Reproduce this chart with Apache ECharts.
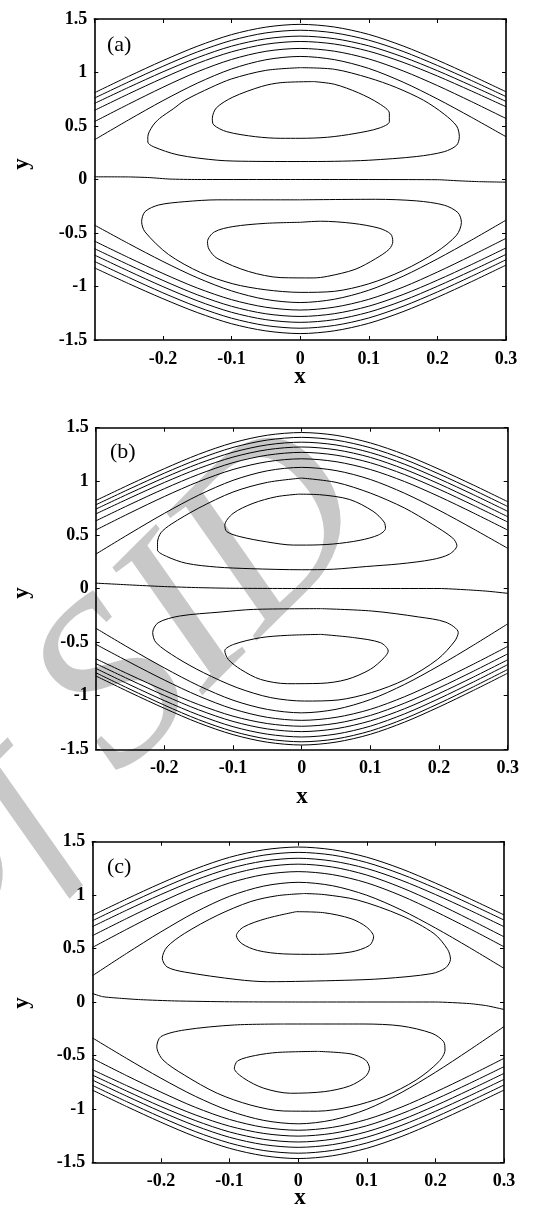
<!DOCTYPE html>
<html>
<head>
<meta charset="utf-8">
<script src="https://cdn.jsdelivr.net/npm/echarts/dist/echarts.min.js"></script>
<style>
  html, body { margin: 0; padding: 0; background: #ffffff; }
  #chart { width: 542px; height: 1211px; }
</style>
</head>
<body>
<div id="chart"></div>
<script>
// Abscissas at which the open streamlines are sampled
const xs = [-0.3, -0.25, -0.2, -0.15, -0.1, -0.05, 0, 0.05, 0.1, 0.15, 0.2, 0.25, 0.3];

// Axis ticks
const xTicks = [-0.3, -0.2, -0.1, 0, 0.1, 0.2, 0.3];
const yTicks = [-1.5, -1, -0.5, 0, 0.5, 1, 1.5];

// ---------- panel (a) ----------
const aOpenUpper = [
  [0.81, 0.964, 1.111, 1.245, 1.354, 1.424, 1.45, 1.425, 1.356, 1.248, 1.116, 0.971, 0.82],
  [0.76, 0.912, 1.058, 1.192, 1.30, 1.37, 1.395, 1.37, 1.302, 1.197, 1.066, 0.924, 0.775],
  [0.71, 0.861, 1.006, 1.138, 1.246, 1.315, 1.34, 1.316, 1.249, 1.145, 1.017, 0.876, 0.73],
  [0.645, 0.80, 0.948, 1.084, 1.193, 1.264, 1.29, 1.266, 1.199, 1.095, 0.967, 0.826, 0.68],
  [0.54, 0.704, 0.862, 1.006, 1.122, 1.198, 1.225, 1.199, 1.127, 1.015, 0.878, 0.727, 0.57],
  [0.37, 0.557, 0.737, 0.90, 1.033, 1.119, 1.15, 1.12, 1.038, 0.91, 0.753, 0.58, 0.40]
];
const aOpenLower = [
  [-0.425, -0.599, -0.766, -0.918, -1.041, -1.121, -1.15, -1.119, -1.035, -0.904, -0.742, -0.565, -0.38],
  [-0.575, -0.73, -0.878, -1.014, -1.123, -1.194, -1.22, -1.193, -1.12, -1.006, -0.865, -0.711, -0.55],
  [-0.645, -0.797, -0.943, -1.077, -1.185, -1.255, -1.28, -1.254, -1.184, -1.075, -0.941, -0.794, -0.64],
  [-0.705, -0.856, -1.001, -1.133, -1.241, -1.31, -1.335, -1.31, -1.24, -1.132, -0.998, -0.852, -0.70],
  [-0.765, -0.915, -1.059, -1.19, -1.296, -1.365, -1.39, -1.364, -1.294, -1.185, -1.051, -0.904, -0.75],
  [-0.825, -0.973, -1.114, -1.243, -1.348, -1.415, -1.44, -1.414, -1.344, -1.235, -1.101, -0.954, -0.80]
];
const aTopOuter = [[0,1.045],[0.05,1.03],[0.1,0.95],[0.14,0.86],[0.18,0.74],[0.21,0.61],[0.228,0.50],[0.232,0.40],[0.228,0.32],[0.21,0.26],[0.17,0.215],[0.1,0.18],[0.05,0.17],[0,0.168],[-0.075,0.17],[-0.12,0.18],[-0.178,0.23],[-0.214,0.307],[-0.222,0.35],[-0.222,0.40],[-0.215,0.50],[-0.205,0.57],[-0.185,0.66],[-0.168,0.74],[-0.13,0.86],[-0.1,0.94],[-0.05,1.02],[0,1.045]];
const aTopInner = [[0.02,0.915],[0.05,0.89],[0.085,0.81],[0.115,0.71],[0.13,0.62],[0.13,0.54],[0.115,0.48],[0.08,0.43],[0.04,0.395],[0,0.385],[-0.028,0.385],[-0.065,0.40],[-0.107,0.447],[-0.126,0.51],[-0.128,0.57],[-0.122,0.67],[-0.098,0.77],[-0.056,0.87],[-0.028,0.905],[0.02,0.915]];
const aBotOuter = [[0,-0.19],[0.11,-0.185],[0.17,-0.20],[0.21,-0.24],[0.23,-0.31],[0.235,-0.40],[0.228,-0.52],[0.198,-0.68],[0.15,-0.85],[0.1,-0.975],[0.05,-1.045],[0,-1.055],[-0.051,-1.03],[-0.098,-0.975],[-0.145,-0.87],[-0.192,-0.70],[-0.226,-0.49],[-0.231,-0.394],[-0.226,-0.30],[-0.206,-0.238],[-0.168,-0.207],[-0.12,-0.19],[0,-0.19]];
const aBotInner = [[0,-0.40],[0.03,-0.39],[0.077,-0.41],[0.115,-0.455],[0.132,-0.51],[0.135,-0.58],[0.13,-0.65],[0.11,-0.74],[0.08,-0.84],[0.04,-0.905],[0.019,-0.92],[-0.028,-0.917],[-0.075,-0.86],[-0.121,-0.737],[-0.133,-0.65],[-0.135,-0.58],[-0.125,-0.49],[-0.098,-0.44],[-0.051,-0.41],[0,-0.40]];
const aMid = [[-0.3,0.025],[-0.25,0.024],[-0.22,0.018],[-0.19,0.004],[-0.15,0],[0,0],[0.2,-0.002],[0.23,-0.012],[0.26,-0.02],[0.3,-0.025]];

// ---------- panel (b) ----------
const bOpenUpper = [
  [0.82, 0.972, 1.118, 1.252, 1.36, 1.43, 1.455, 1.429, 1.358, 1.249, 1.113, 0.965, 0.81],
  [0.78, 0.931, 1.076, 1.208, 1.316, 1.385, 1.41, 1.384, 1.313, 1.204, 1.068, 0.92, 0.765],
  [0.74, 0.89, 1.034, 1.165, 1.271, 1.34, 1.365, 1.339, 1.268, 1.159, 1.023, 0.875, 0.72],
  [0.695, 0.845, 0.989, 1.12, 1.226, 1.295, 1.32, 1.294, 1.223, 1.112, 0.976, 0.826, 0.67],
  [0.63, 0.784, 0.931, 1.065, 1.174, 1.244, 1.27, 1.244, 1.173, 1.062, 0.926, 0.776, 0.62],
  [0.545, 0.705, 0.858, 0.997, 1.11, 1.183, 1.21, 1.183, 1.11, 0.997, 0.858, 0.705, 0.545],
  [0.32, 0.514, 0.701, 0.871, 1.009, 1.098, 1.13, 1.10, 1.017, 0.888, 0.73, 0.556, 0.375]
];
const bOpenLower = [
  [-0.37, -0.56, -0.741, -0.907, -1.042, -1.128, -1.16, -1.127, -1.036, -0.894, -0.72, -0.529, -0.33],
  [-0.52, -0.69, -0.854, -1.003, -1.124, -1.202, -1.23, -1.202, -1.127, -1.009, -0.864, -0.706, -0.54],
  [-0.655, -0.806, -0.951, -1.083, -1.191, -1.26, -1.285, -1.258, -1.184, -1.069, -0.927, -0.772, -0.61],
  [-0.70, -0.852, -0.998, -1.132, -1.24, -1.31, -1.335, -1.308, -1.235, -1.121, -0.98, -0.826, -0.665],
  [-0.745, -0.899, -1.046, -1.18, -1.289, -1.359, -1.385, -1.358, -1.284, -1.169, -1.027, -0.872, -0.71],
  [-0.785, -0.94, -1.088, -1.224, -1.333, -1.404, -1.43, -1.403, -1.329, -1.214, -1.072, -0.917, -0.755],
  [-0.815, -0.97, -1.118, -1.254, -1.363, -1.434, -1.46, -1.433, -1.36, -1.246, -1.105, -0.951, -0.79]
];
const bTopOuter = [[0,1.03],[0.05,0.99],[0.1,0.89],[0.15,0.75],[0.19,0.60],[0.22,0.47],[0.226,0.40],[0.215,0.32],[0.19,0.27],[0.143,0.23],[0.094,0.205],[0.046,0.18],[0,0.175],[-0.075,0.185],[-0.124,0.20],[-0.168,0.235],[-0.197,0.30],[-0.21,0.36],[-0.21,0.43],[-0.205,0.52],[-0.19,0.60],[-0.15,0.75],[-0.1,0.90],[-0.05,0.99],[0,1.03]];
const bTopInner = [[-0.005,0.88],[0.026,0.875],[0.07,0.83],[0.104,0.72],[0.12,0.62],[0.122,0.56],[0.112,0.50],[0.085,0.45],[0.046,0.415],[0.007,0.405],[-0.012,0.405],[-0.051,0.435],[-0.09,0.484],[-0.109,0.53],[-0.112,0.59],[-0.10,0.70],[-0.071,0.794],[-0.037,0.856],[-0.005,0.88]];
const bBotOuter = [[0.028,-0.188],[0.102,-0.21],[0.17,-0.265],[0.21,-0.315],[0.228,-0.41],[0.223,-0.49],[0.198,-0.66],[0.151,-0.848],[0.102,-0.97],[0.053,-1.04],[0.004,-1.05],[-0.045,-1.018],[-0.094,-0.925],[-0.143,-0.785],[-0.182,-0.646],[-0.212,-0.506],[-0.217,-0.41],[-0.209,-0.319],[-0.178,-0.257],[-0.119,-0.22],[-0.07,-0.195],[0.028,-0.188]];
const bBotInner = [[0.028,-0.428],[0.077,-0.459],[0.115,-0.506],[0.126,-0.583],[0.12,-0.646],[0.1,-0.754],[0.066,-0.848],[0.028,-0.885],[-0.021,-0.888],[-0.06,-0.848],[-0.089,-0.754],[-0.107,-0.661],[-0.112,-0.58],[-0.099,-0.521],[-0.06,-0.459],[-0.021,-0.437],[0.028,-0.428]];
const bMid = [[-0.3,0.05],[-0.27,0.04],[-0.24,0.03],[-0.2,0.018],[-0.15,0.008],[-0.1,0.002],[0,0],[0.2,0],[0.24,-0.012],[0.27,-0.025],[0.3,-0.045]];

// ---------- panel (c) ----------
const cOpenUpper = [
  [0.81, 0.964, 1.111, 1.245, 1.354, 1.424, 1.45, 1.425, 1.355, 1.247, 1.113, 0.967, 0.815],
  [0.76, 0.914, 1.061, 1.195, 1.304, 1.374, 1.40, 1.375, 1.305, 1.197, 1.065, 0.919, 0.767],
  [0.705, 0.859, 1.006, 1.14, 1.249, 1.319, 1.345, 1.319, 1.249, 1.14, 1.006, 0.859, 0.705],
  [0.62, 0.781, 0.935, 1.076, 1.19, 1.263, 1.29, 1.263, 1.188, 1.072, 0.93, 0.773, 0.61],
  [0.51, 0.68, 0.844, 0.993, 1.114, 1.192, 1.22, 1.192, 1.115, 0.995, 0.847, 0.686, 0.517],
  [0.245, 0.455, 0.656, 0.84, 0.989, 1.085, 1.12, 1.088, 0.999, 0.862, 0.693, 0.508, 0.315]
];
const cOpenLower = [
  [-0.335, -0.528, -0.713, -0.882, -1.019, -1.108, -1.14, -1.104, -1.004, -0.849, -0.658, -0.448, -0.23],
  [-0.527, -0.689, -0.843, -0.985, -1.099, -1.173, -1.20, -1.173, -1.099, -0.985, -0.843, -0.689, -0.527],
  [-0.633, -0.782, -0.925, -1.056, -1.162, -1.23, -1.255, -1.229, -1.158, -1.047, -0.911, -0.761, -0.605],
  [-0.683, -0.833, -0.978, -1.109, -1.216, -1.285, -1.31, -1.284, -1.214, -1.105, -0.97, -0.822, -0.668],
  [-0.73, -0.881, -1.026, -1.158, -1.266, -1.335, -1.36, -1.335, -1.265, -1.156, -1.023, -0.877, -0.724],
  [-0.78, -0.932, -1.078, -1.212, -1.32, -1.39, -1.415, -1.389, -1.319, -1.211, -1.077, -0.93, -0.777],
  [-0.824, -0.978, -1.125, -1.26, -1.369, -1.439, -1.465, -1.439, -1.369, -1.26, -1.125, -0.978, -0.824]
];
const cTopOuter = [[0.009,1.015],[0.038,1.005],[0.086,0.955],[0.15,0.81],[0.198,0.64],[0.218,0.49],[0.222,0.40],[0.215,0.32],[0.195,0.266],[0.125,0.219],[0.067,0.203],[-0.045,0.19],[-0.089,0.21],[-0.166,0.281],[-0.191,0.328],[-0.198,0.41],[-0.191,0.515],[-0.166,0.64],[-0.118,0.81],[-0.069,0.94],[-0.03,0.995],[0.009,1.015]];
const cTopInner = [[-0.003,0.845],[0.038,0.835],[0.077,0.78],[0.1,0.70],[0.11,0.61],[0.104,0.53],[0.077,0.468],[0.028,0.446],[-0.021,0.45],[-0.059,0.482],[-0.082,0.546],[-0.09,0.62],[-0.08,0.70],[-0.047,0.78],[-0.003,0.845]];
const cBotOuter = [[-0.021,-0.206],[0.096,-0.206],[0.15,-0.224],[0.195,-0.293],[0.212,-0.371],[0.214,-0.449],[0.205,-0.558],[0.172,-0.73],[0.125,-0.885],[0.077,-0.979],[0.028,-1.022],[-0.021,-1.02],[-0.069,-0.965],[-0.118,-0.854],[-0.166,-0.683],[-0.197,-0.542],[-0.206,-0.418],[-0.2,-0.324],[-0.166,-0.262],[-0.093,-0.215],[-0.021,-0.206]];
const cBotInner = [[0.028,-0.462],[0.077,-0.486],[0.098,-0.542],[0.104,-0.62],[0.098,-0.698],[0.075,-0.786],[0.038,-0.839],[-0.011,-0.854],[-0.05,-0.807],[-0.079,-0.714],[-0.093,-0.62],[-0.088,-0.55],[-0.062,-0.5],[-0.03,-0.472],[0.028,-0.462]];
const cMid = [[-0.3,0.08],[-0.285,0.05],[-0.26,0.035],[-0.23,0.022],[-0.18,0.01],[-0.1,0.002],[0,0],[0.2,0],[0.25,-0.015],[0.275,-0.035],[0.3,-0.07]];

// Panel labels
const panelTags = ['(a)', '(b)', '(c)'];

// ---------- layout ----------
const SERIF = '"Liberation Serif", "Times New Roman", Times, serif';
const grids = [
  { left: 94.3, top: 19,    width: 411.7, height: 321 },
  { left: 95.7, top: 427.7, width: 412,   height: 321.6 },
  { left: 92.3, top: 841.7, width: 411.7, height: 320.6 }
];
const panelData = [
  { up: aOpenUpper, lo: aOpenLower, closed: [aTopOuter, aTopInner, aBotOuter, aBotInner], mid: aMid },
  { up: bOpenUpper, lo: bOpenLower, closed: [bTopOuter, bTopInner, bBotOuter, bBotInner], mid: bMid },
  { up: cOpenUpper, lo: cOpenLower, closed: [cTopOuter, cTopInner, cBotOuter, cBotInner], mid: cMid }
];

const FRONT = 1; // drawing layer for plots, above the faint stamp
const fmt = v => String(Math.round(v * 10) / 10);
const lineStyle = { color: '#000', width: 1 };
const labelFont = { color: '#000', fontFamily: SERIF, fontWeight: 'bold', fontSize: 18 };

const xAxes = [], yAxes = [], series = [];
grids.forEach((g, i) => {
  const common = {
    gridIndex: i, type: 'value', zlevel: FRONT,
    splitLine: { show: false },
    axisLine: { show: true, onZero: false, lineStyle: { color: '#000', width: 1.6 } },
    axisTick: { show: true, inside: true, length: 4, lineStyle: { color: '#000', width: 1 } }
  };
  xAxes.push(Object.assign({}, common, {
    position: 'bottom', min: xTicks[0], max: xTicks[xTicks.length - 1], interval: 0.1,
    axisLabel: Object.assign({ margin: 10, showMinLabel: false, showMaxLabel: true, formatter: fmt }, labelFont)
  }));
  xAxes.push(Object.assign({}, common, {
    position: 'top', min: xTicks[0], max: xTicks[xTicks.length - 1], interval: 0.1,
    axisLabel: { show: false }
  }));
  yAxes.push(Object.assign({}, common, {
    position: 'left', min: yTicks[0], max: yTicks[yTicks.length - 1], interval: 0.5,
    axisLabel: Object.assign({ margin: 7, showMinLabel: true, showMaxLabel: true, formatter: fmt }, labelFont)
  }));
  yAxes.push(Object.assign({}, common, {
    position: 'right', min: yTicks[0], max: yTicks[yTicks.length - 1], interval: 0.5,
    axisLabel: { show: false }
  }));

  const p = panelData[i];
  const base = {
    type: 'line', xAxisIndex: 2 * i, yAxisIndex: 2 * i, zlevel: FRONT,
    showSymbol: false, symbol: 'none', lineStyle: lineStyle,
    silent: true, animation: false
  };
  p.up.concat(p.lo).forEach(row => {
    series.push(Object.assign({}, base, { smooth: 0.3, data: xs.map((x, k) => [x, row[k]]) }));
  });
  p.closed.forEach(loop => {
    series.push(Object.assign({}, base, { smooth: 0.3, data: loop }));
  });
  series.push(Object.assign({}, base, { smooth: 0.2, data: p.mid }));
});

// Axis titles, panel tags and the faint background stamp
const xTitlePos = [[300, 377], [302, 797], [300, 1198]];
const yTitlePos = [[22, 164], [22, 593], [22, 1003]];
const tagPos = [[107, 45], [110, 452], [107, 867]];
const graphics = [
  {
    type: 'text', zlevel: 0, z: 0, x: 120, y: 690, rotation: 45 * Math.PI / 180,
    silent: true,
    style: {
      text: 'of SID', fill: '#c8c8c8',
      font: 'italic 235px ' + SERIF,
      textAlign: 'center', textVerticalAlign: 'middle'
    }
  }
];
for (let i = 0; i < 3; i++) {
  graphics.push({
    type: 'text', zlevel: FRONT, x: xTitlePos[i][0], y: xTitlePos[i][1],
    style: { text: 'x', fill: '#000', font: 'bold 23px ' + SERIF, textAlign: 'center', textVerticalAlign: 'middle' }
  });
  graphics.push({
    type: 'text', zlevel: FRONT, x: yTitlePos[i][0], y: yTitlePos[i][1], rotation: Math.PI / 2,
    style: { text: 'y', fill: '#000', font: 'bold 23px ' + SERIF, textAlign: 'center', textVerticalAlign: 'middle' }
  });
  graphics.push({
    type: 'text', zlevel: FRONT, x: tagPos[i][0], y: tagPos[i][1],
    style: { text: panelTags[i], fill: '#000', font: '22px ' + SERIF, textAlign: 'left', textVerticalAlign: 'middle' }
  });
}

const chart = echarts.init(document.getElementById('chart'), null, { renderer: 'canvas' });
chart.setOption({
  backgroundColor: '#ffffff',
  animation: false,
  grid: grids.map(g => Object.assign({ containLabel: false }, g)),
  xAxis: xAxes,
  yAxis: yAxes,
  series: series,
  graphic: graphics
});
</script>
</body>
</html>
